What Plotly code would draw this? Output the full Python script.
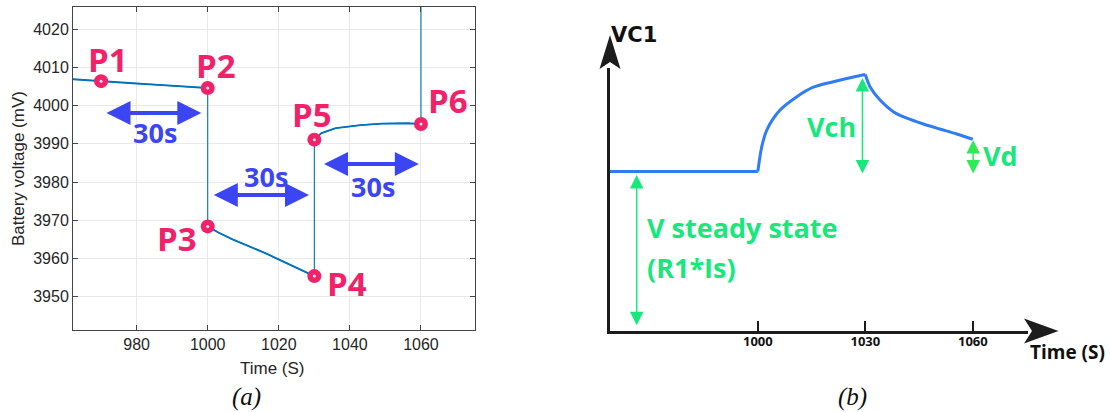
import plotly.graph_objects as go

W, H = 1110, 412

# ---------------- (a) measured battery voltage ----------------
time_s = [962, 966, 970, 975, 980, 985, 990, 995, 1000,
          1000, 1003, 1007, 1012.6, 1016, 1019.2, 1022, 1025.8, 1030,
          1030, 1032, 1036, 1043, 1049, 1056, 1060,
          1060]
voltage_mv = [4006.9, 4006.7, 4006.4, 4006.1, 4005.8, 4005.5, 4005.2, 4004.9, 4004.6,
              3968.4, 3966.8, 3965.0, 3962.9, 3961.5, 3960.1, 3958.9, 3957.2, 3955.4,
              3991.1, 3992.8, 3994.1, 3994.9, 3995.3, 3995.4, 3995.2,
              4060.0]

point_names = ["P1", "P2", "P3", "P4", "P5", "P6"]
point_index = [2, 8, 9, 17, 18, 24]
# label offset from its point, in pixels (x right, y up)
label_shift = [(7, 22), (8, 23), (-31, -12), (33, -7), (-2, 25), (27, 23)]

x_ticks_a = [980, 1000, 1020, 1040, 1060]
y_ticks_a = [3950, 3960, 3970, 3980, 3990, 4000, 4010, 4020]

# 30 s windows: (start, end, arrow level, label x, label y)
windows = [
    (971.1, 998.2, 3998.1, 985.2, 3993.0),
    (1001.3, 1028.5, 3976.6, 1016.4, 3981.4),
    (1032.3, 1059.4, 3984.7, 1046.4, 3978.8),
]
window_text = "30s"

# ---------------- (b) capacitor voltage sketch ----------------
vc1_time = [958.75, 1000, 1001.1, 1002.5, 1006.2, 1010.9, 1015.5, 1021.1, 1026.7, 1030,
            1031.3, 1034.1, 1037.8, 1041.6, 1046.2, 1050.8, 1055.5, 1060]
vc1_level = [60.6, 60.6, 70.1, 76.4, 84.0, 89.1, 92.7, 94.8, 96.6, 97.5,
             92.9, 87.8, 83.4, 80.9, 78.7, 76.8, 74.9, 72.9]
rise_start, peak = 1, 9
x_ticks_b = [1000, 1030, 1060]
x_ticklabels_b = ["1000", "1030", "1060"]

PINK = "#F2226A"
MBLUE = "#0072BD"
ARROW_BLUE = "#3B46F2"
GREEN = "#17E87C"
GREEN2 = "#2EEA55"
CURVE_BLUE = "#2F7CF6"
DARK = "#1c1c1c"


def px(x):
    return x / W


def py(y):
    return 1 - y / H


fig = go.Figure()

# full series as thin line (includes the step transitions)
fig.add_trace(go.Scatter(x=time_s, y=voltage_mv, mode="lines",
                         line=dict(color=MBLUE, width=1.1),
                         xaxis="x", yaxis="y", hoverinfo="skip", showlegend=False))

# measured segments drawn a bit heavier (break at steps)
seg_x, seg_y = [], []
for i, (t, v) in enumerate(zip(time_s, voltage_mv)):
    if i > 0 and abs(v - voltage_mv[i - 1]) > 10:
        seg_x.append(None)
        seg_y.append(None)
    seg_x.append(t)
    seg_y.append(v)
fig.add_trace(go.Scatter(x=seg_x, y=seg_y, mode="lines", connectgaps=False,
                         line=dict(color=MBLUE, width=1.9),
                         xaxis="x", yaxis="y", hoverinfo="skip", showlegend=False))

px_t = [time_s[i] for i in point_index]
px_v = [voltage_mv[i] for i in point_index]
fig.add_trace(go.Scatter(x=px_t, y=px_v, mode="markers",
                         marker=dict(size=14, color=PINK),
                         xaxis="x", yaxis="y", showlegend=False, cliponaxis=False))
fig.add_trace(go.Scatter(x=px_t, y=px_v, mode="markers",
                         marker=dict(size=3, color="#dbe9f7"),
                         xaxis="x", yaxis="y", showlegend=False, cliponaxis=False))

# sketch curve: flat part, charging rise, relaxation decay
pieces = [(0, rise_start + 1, "linear"), (rise_start, peak + 1, "spline"),
          (peak, len(vc1_time), "spline")]
for a, b, shape in pieces:
    fig.add_trace(go.Scatter(x=vc1_time[a:b], y=vc1_level[a:b], mode="lines",
                             line=dict(color=CURVE_BLUE, width=3, shape=shape, smoothing=0.8),
                             xaxis="x2", yaxis="y2", hoverinfo="skip", showlegend=False))

ann = []
for name, idx, (dx, dy) in zip(point_names, point_index, label_shift):
    ann.append(dict(x=time_s[idx], y=voltage_mv[idx], xref="x", yref="y",
                    text=name, showarrow=False, xshift=dx, yshift=dy,
                    xanchor="center", yanchor="middle",
                    font=dict(family="Open Sans", size=33, color=PINK, weight="bold")))

for (a, b, lvl, lx, ly) in windows:
    ann.append(dict(x=b, y=lvl, ax=a, ay=lvl, xref="x", yref="y", axref="x", ayref="y",
                    text="", showarrow=True, arrowside="end+start", arrowhead=2,
                    arrowsize=1.2, arrowwidth=4, arrowcolor=ARROW_BLUE,
                    standoff=0, startstandoff=0))
    ann.append(dict(x=lx, y=ly, xref="x", yref="y", text=window_text, showarrow=False,
                    xanchor="center", yanchor="middle",
                    font=dict(family="Open Sans", size=27, color=ARROW_BLUE, weight="bold")))


def paper_text(x, y, text, font, **kw):
    d = dict(x=px(x), y=py(y), xref="paper", yref="paper", text=text, showarrow=False,
             xanchor="center", yanchor="middle", font=font)
    d.update(kw)
    return d


# axis titles and panel captions
ann.append(paper_text(272, 368, "Time (S)",
                      dict(family="Liberation Sans", size=17, color="#262626")))
ann.append(paper_text(19, 169, "Battery voltage (mV)",
                      dict(family="Liberation Sans", size=17, color="#262626"), textangle=-90))
ann.append(paper_text(246, 397, "<i>(a)</i>",
                      dict(family="Liberation Serif", size=25, color="#111")))
ann.append(paper_text(852, 397, "<i>(b)</i>",
                      dict(family="Liberation Serif", size=25, color="#111")))

# sketch labels
ann.append(paper_text(634, 34.5, "VC1",
                      dict(family="DejaVu Sans", size=21, color="#111", weight="bold")))
ann.append(paper_text(1067, 352, "Time (S)",
                      dict(family="Open Sans", size=19, color="#111", weight="bold")))

green_font = dict(family="Open Sans", size=27, color=GREEN, weight="bold")
ann.append(dict(x=968.5, y=39.2, xref="x2", yref="y2", text="V steady state", xanchor="left",
                yanchor="middle", showarrow=False, font=green_font))
ann.append(dict(x=968.5, y=24.3, xref="x2", yref="y2", text="(R1*Is)", xanchor="left",
                yanchor="middle", showarrow=False, font=green_font))
ann.append(dict(x=1020.7, y=77.6, xref="x2", yref="y2", text="Vch", showarrow=False,
                xanchor="center", yanchor="middle", font=green_font))
ann.append(dict(x=1067.6, y=66.9, xref="x2", yref="y2", text="Vd", showarrow=False,
                xanchor="center", yanchor="middle", font=green_font))

# green dimension arrows: (x, top, bottom, colour)
dims = [(966.2, 59.3, 1.6, GREEN), (1029.2, 96.2, 59.3, GREEN), (1060.1, 72.6, 59.3, GREEN2)]
for (xx, top, bot, col) in dims:
    ann.append(dict(x=xx, y=top, ax=xx, ay=bot, xref="x2", yref="y2", axref="x2", ayref="y2",
                    text="", showarrow=True, arrowside="end+start", arrowhead=2,
                    arrowsize=1.8, arrowwidth=1.5, arrowcolor=col,
                    standoff=0, startstandoff=0))

# arrow tips of the sketch axes
shapes = [
    dict(type="path", xref="paper", yref="paper", fillcolor=DARK, line=dict(width=0),
         path=f"M {px(610)},{py(35)} L {px(620.5)},{py(69)} L {px(610)},{py(62)} L {px(599.5)},{py(69)} Z"),
    dict(type="path", xref="paper", yref="paper", fillcolor=DARK, line=dict(width=0),
         path=f"M {px(1058.5)},{py(331)} L {px(1024)},{py(318.5)} L {px(1032)},{py(331)} L {px(1024)},{py(343.5)} Z"),
]

fig.update_layout(
    width=W, height=H, margin=dict(l=0, r=0, t=0, b=0, autoexpand=False),
    paper_bgcolor="white", plot_bgcolor="white",
    showlegend=False, annotations=ann, shapes=shapes,
    xaxis=dict(domain=[px(73), px(475)], range=[962.1, 1075.2], tickvals=x_ticks_a,
               ticks="inside", ticklen=5, tickcolor="#444", showline=True, linecolor="#444",
               linewidth=1, mirror="ticks", showgrid=True, gridcolor="#e9e9e9", zeroline=False,
               tickfont=dict(family="Liberation Sans", size=16, color="#262626"),
               anchor="y", automargin=False),
    yaxis=dict(domain=[py(330), py(7)], range=[3941.3, 4025.8], tickvals=y_ticks_a,
               ticks="inside", ticklen=5, tickcolor="#444", showline=True, linecolor="#444",
               linewidth=1, mirror="ticks", showgrid=True, gridcolor="#e9e9e9", zeroline=False,
               tickfont=dict(family="Liberation Sans", size=16, color="#262626"),
               anchor="x", automargin=False),
    xaxis2=dict(domain=[px(610), px(1028)], range=[958.75, 1075.4], tickvals=x_ticks_b,
                ticktext=x_ticklabels_b, ticks="inside", ticklen=10, tickwidth=2, tickcolor=DARK,
                showline=True, linecolor=DARK, linewidth=3, showgrid=False, zeroline=False,
                tickfont=dict(family="Open Sans", size=13, color="#111", weight="bold"),
                ticklabelstandoff=-4, anchor="y2", automargin=False),
    yaxis2=dict(domain=[py(331), py(68)], range=[0, 100], showticklabels=False, ticks="",
                showline=True, linecolor=DARK, linewidth=3, showgrid=False, zeroline=False,
                anchor="x2", automargin=False),
)

fig.write_html("out.html")
